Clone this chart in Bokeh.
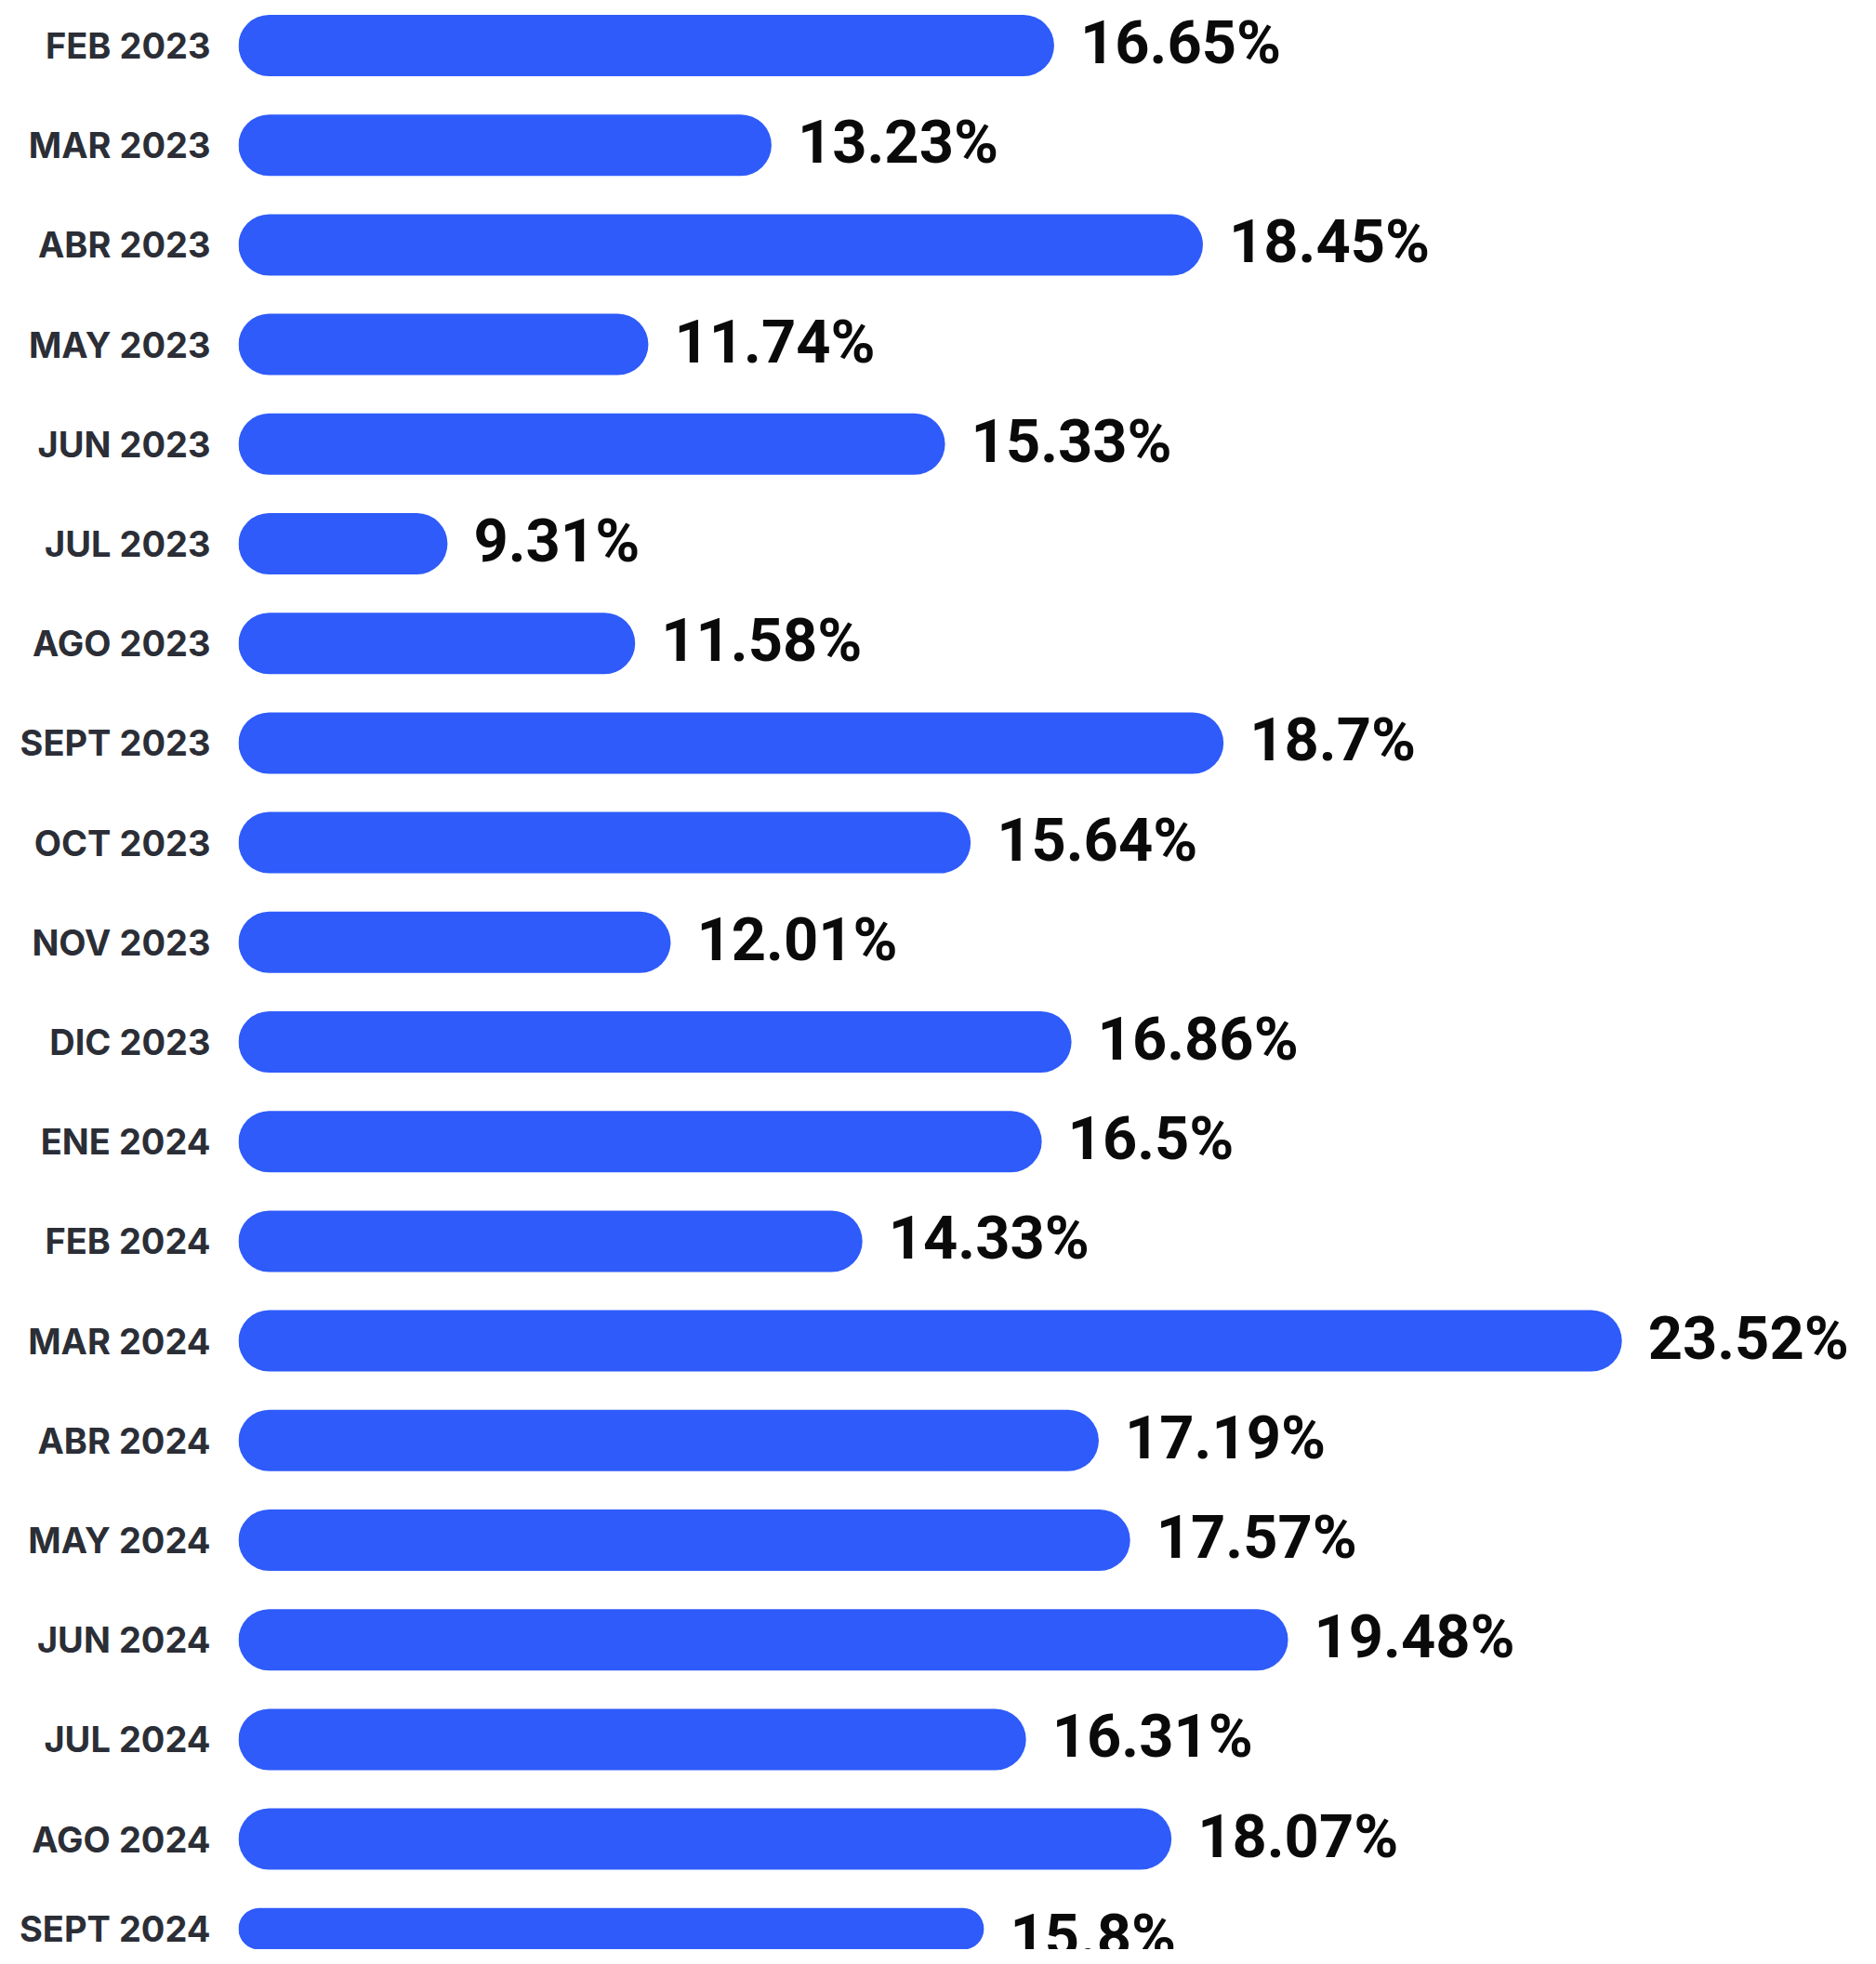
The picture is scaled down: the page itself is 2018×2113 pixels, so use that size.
from bokeh.plotting import figure
from bokeh.models import ColumnDataSource, Range1d, FixedTicker
from bokeh.core.properties import value
from bokeh.embed import file_html
from bokeh.resources import INLINE

months = ["FEB 2023", "MAR 2023", "ABR 2023", "MAY 2023", "JUN 2023", "JUL 2023",
          "AGO 2023", "SEPT 2023", "OCT 2023", "NOV 2023", "DIC 2023", "ENE 2024",
          "FEB 2024", "MAR 2024", "ABR 2024", "MAY 2024", "JUN 2024", "JUL 2024",
          "AGO 2024", "SEPT 2024"]
rates = [16.65, 13.23, 18.45, 11.74, 15.33, 9.31, 11.58, 18.7, 15.64, 12.01,
         16.86, 16.5, 14.33, 23.52, 17.19, 17.57, 19.48, 16.31, 18.07, 15.8]
rate_labels = [f"{v:g}%" for v in rates]

BASE = 6.78          # axis start (bars begin at the left edge of the frame)
W, H = 2000, 2097
LEFT = 256
PX_PER_UNIT = 88.9
ROW_PX = 107.2
TOP_PAD_PX = 48.5

x_end = BASE + (W - LEFT) / PX_PER_UNIT
y_top = -TOP_PAD_PX / ROW_PX
y_bottom = y_top + H / ROW_PX

rows = list(range(len(months)))
src = ColumnDataSource(dict(y=rows, v=rates, lab=rate_labels,
                            base=[BASE] * len(rates)))

p = figure(width=W, height=H, output_backend="svg", toolbar_location=None,
           x_range=Range1d(BASE, x_end), y_range=Range1d(y_bottom, y_top),
           min_border=0, min_border_left=LEFT)
p.background_fill_color = "white"
p.border_fill_color = "white"
p.outline_line_color = None
p.grid.visible = False
p.xaxis.visible = False

p.hbar(y="y", left="base", right="v", height=66 / ROW_PX, source=src,
       fill_color="#2E5BFA", line_color=None, border_radius=33)

p.text(x="v", y="y", text="lab", source=src, x_offset=28, y_offset=-3,
       text_baseline="middle", text_align="left",
       text_font=value("Roboto"), text_font_style="bold",
       text_font_size="65px", text_color="#0a0a0a")

ax = p.yaxis[0]
ax.ticker = FixedTicker(ticks=rows)
ax.major_label_overrides = {i: m for i, m in zip(rows, months)}
ax.axis_line_color = None
ax.major_tick_line_color = None
ax.minor_tick_line_color = None
ax.major_tick_out = 0
ax.major_tick_in = 0
ax.major_label_standoff = 30
ax.major_label_text_font = "Inter"
ax.major_label_text_font_style = "bold"
ax.major_label_text_font_size = "38px"
ax.major_label_text_color = "#2b2e36"

open("out.html", "w").write(file_html(p, INLINE))
